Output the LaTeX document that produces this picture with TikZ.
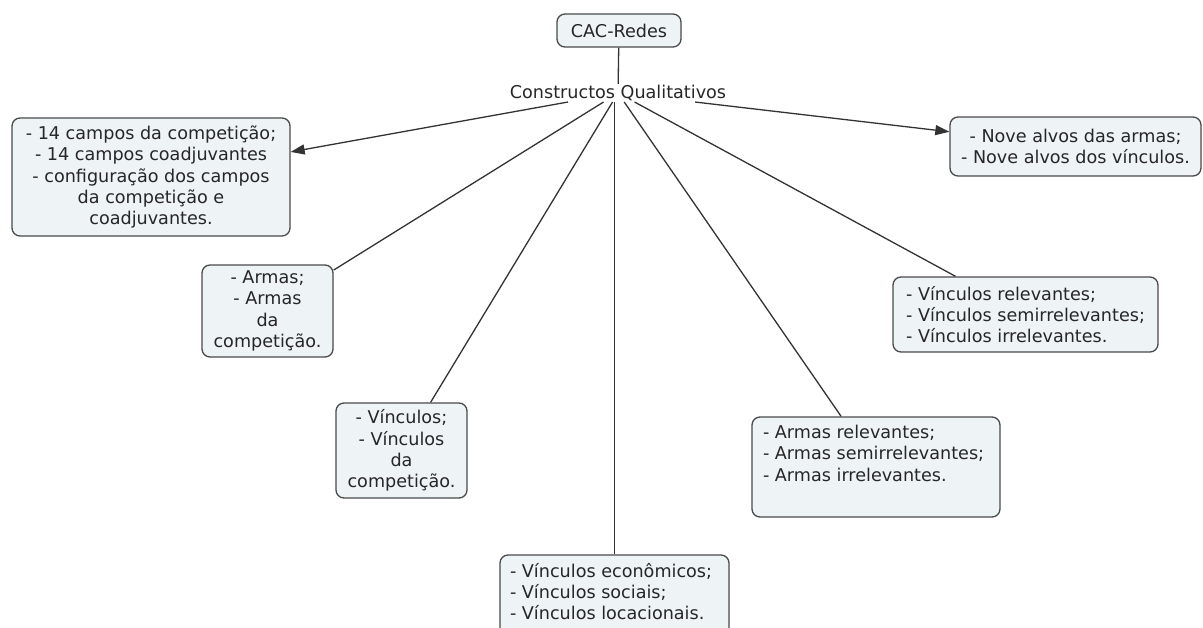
\documentclass[tikz,border=0pt]{standalone}
\usepackage{fontspec}
\setmainfont{DejaVu Sans}
\usetikzlibrary{arrows.meta}
\definecolor{boxfill}{HTML}{EEF3F5}
\definecolor{boxline}{HTML}{4A4A4A}
\definecolor{linkline}{HTML}{333333}
\definecolor{ink}{HTML}{262626}
\tikzset{
  concept/.style={draw=boxline, fill=boxfill, rounded corners=8pt, line width=1.3pt,
    text=ink, inner sep=0pt},
  phrase/.style={text=ink, inner sep=1pt},
  link/.style={draw=linkline, line width=1.3pt},
  arrowlink/.style={link, -{Triangle[length=14pt,width=10pt]}},
}
\begin{document}
\begin{tikzpicture}[x=1pt, y=-1pt,
  font=\fontsize{17.6}{21.4}\selectfont]
\useasboundingbox (0,0) rectangle (1203,627);

% concepts
\node[concept, minimum width=124pt, minimum height=33pt] (root) at (619,30.5) {CAC-Redes};
\node[phrase] (lab) at (618,93) {Constructos Qualitativos};

\node[concept, minimum width=278pt, minimum height=118pt, align=center] (campos) at (151,177)
  {- 14 campos da competição;\\- 14 campos coadjuvantes\\- configuração dos campos\\da competição e\\coadjuvantes.};
\node[concept, minimum width=251pt, minimum height=59pt, align=center] (alvos) at (1075.5,146.5)
  {- Nove alvos das armas;\\- Nove alvos dos vínculos.};
\node[concept, minimum width=131pt, minimum height=92pt, align=center] (armas) at (267.5,311)
  {- Armas;\\- Armas\\da\\competição.};
\node[concept, minimum width=265pt, minimum height=75pt, align=left] (vrel) at (1025.5,314.5)
  {- Vínculos relevantes;\\- Vínculos semirrelevantes;\\- Vínculos irrelevantes.};
\node[concept, minimum width=131pt, minimum height=95pt, align=center] (vinc) at (401.5,450.5)
  {- Vínculos;\\- Vínculos\\da\\competição.};
\node[concept, minimum width=248pt] (arel) at (876,467)
  {\parbox[c][100pt][t]{226pt}{\vspace{8pt}- Armas relevantes;\\- Armas semirrelevantes;\\- Armas irrelevantes.}};
\node[concept, minimum width=229pt] (econ) at (614.5,597.5)
  {\parbox[c][85pt][t]{209pt}{\vspace{8pt}- Vínculos econômicos;\\- Vínculos sociais;\\- Vínculos locacionais.}};

% links
\draw[link] (root) -- (lab);
\draw[arrowlink] (lab) -- (campos);
\draw[arrowlink] (lab) -- (alvos);
\draw[link] (lab) -- (armas);
\draw[link] (lab) -- (vinc);
\draw[link] (lab.south -| econ.north) -- (econ.north);
\draw[link] (lab) -- (arel);
\draw[link] (lab) -- (vrel);
\end{tikzpicture}
\end{document}
